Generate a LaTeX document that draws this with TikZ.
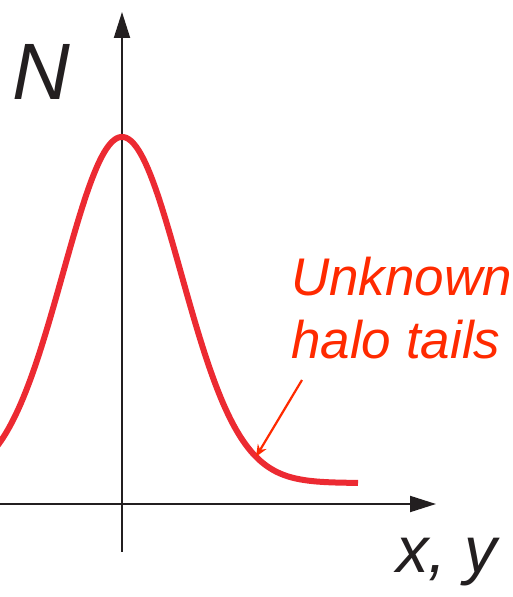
\documentclass[tikz,border=0pt]{standalone}
\usepackage{fontspec}
\setmainfont{Liberation Sans}
\usetikzlibrary{arrows.meta,positioning,calc}
\definecolor{curvered}{HTML}{EC2A32}
\definecolor{notered}{HTML}{FF2A00}
\definecolor{axisgray}{HTML}{231F20}

\begin{document}
\begin{tikzpicture}[x=1pt,y=1pt,
    axis/.style={draw=axisgray,line width=2pt,-{Triangle[length=26pt,width=16pt]}},
    biglabel/.style={inner sep=0pt,anchor=base west,text=axisgray,font=\itshape}]
  \useasboundingbox (0,0) rectangle (512,597);
  % axes
  \coordinate (xstart) at (0,93);
  \coordinate (xend) at (436,93);
  \coordinate (ystart) at (122,45);
  \coordinate (yend) at (122,585);
  \draw[axis] (xstart) -- (xend);
  \draw[axis] (ystart) -- (yend);
  \node[biglabel,font=\itshape\fontsize{80}{90}\selectfont] (nlabel) at (12,497) {N};
  \node[biglabel,font=\itshape\fontsize{65}{75}\selectfont] (xylabel) at (396,24) {x, y};
  % beam profile
  \draw[curvered,line width=6pt] plot[domain=-6:358,samples=150,smooth]
    (\x,{114+346*exp(-0.5*((\x-122)/59)^2)});
  % halo note
  \node[inner sep=0pt,anchor=north west,align=left,text=notered,
    font=\itshape\fontsize{53}{63}\selectfont] (halo) at (291,340) {Unknown\\halo tails};
  \coordinate (arrstart) at (302,217);
  \coordinate (tailpt) at (256,{114+346*exp(-0.5*((256-122)/59)^2)});
  \draw[notered,line width=2.2pt,-{Stealth[length=12pt,width=10pt]}] (arrstart) -- (tailpt);
\end{tikzpicture}
\end{document}
